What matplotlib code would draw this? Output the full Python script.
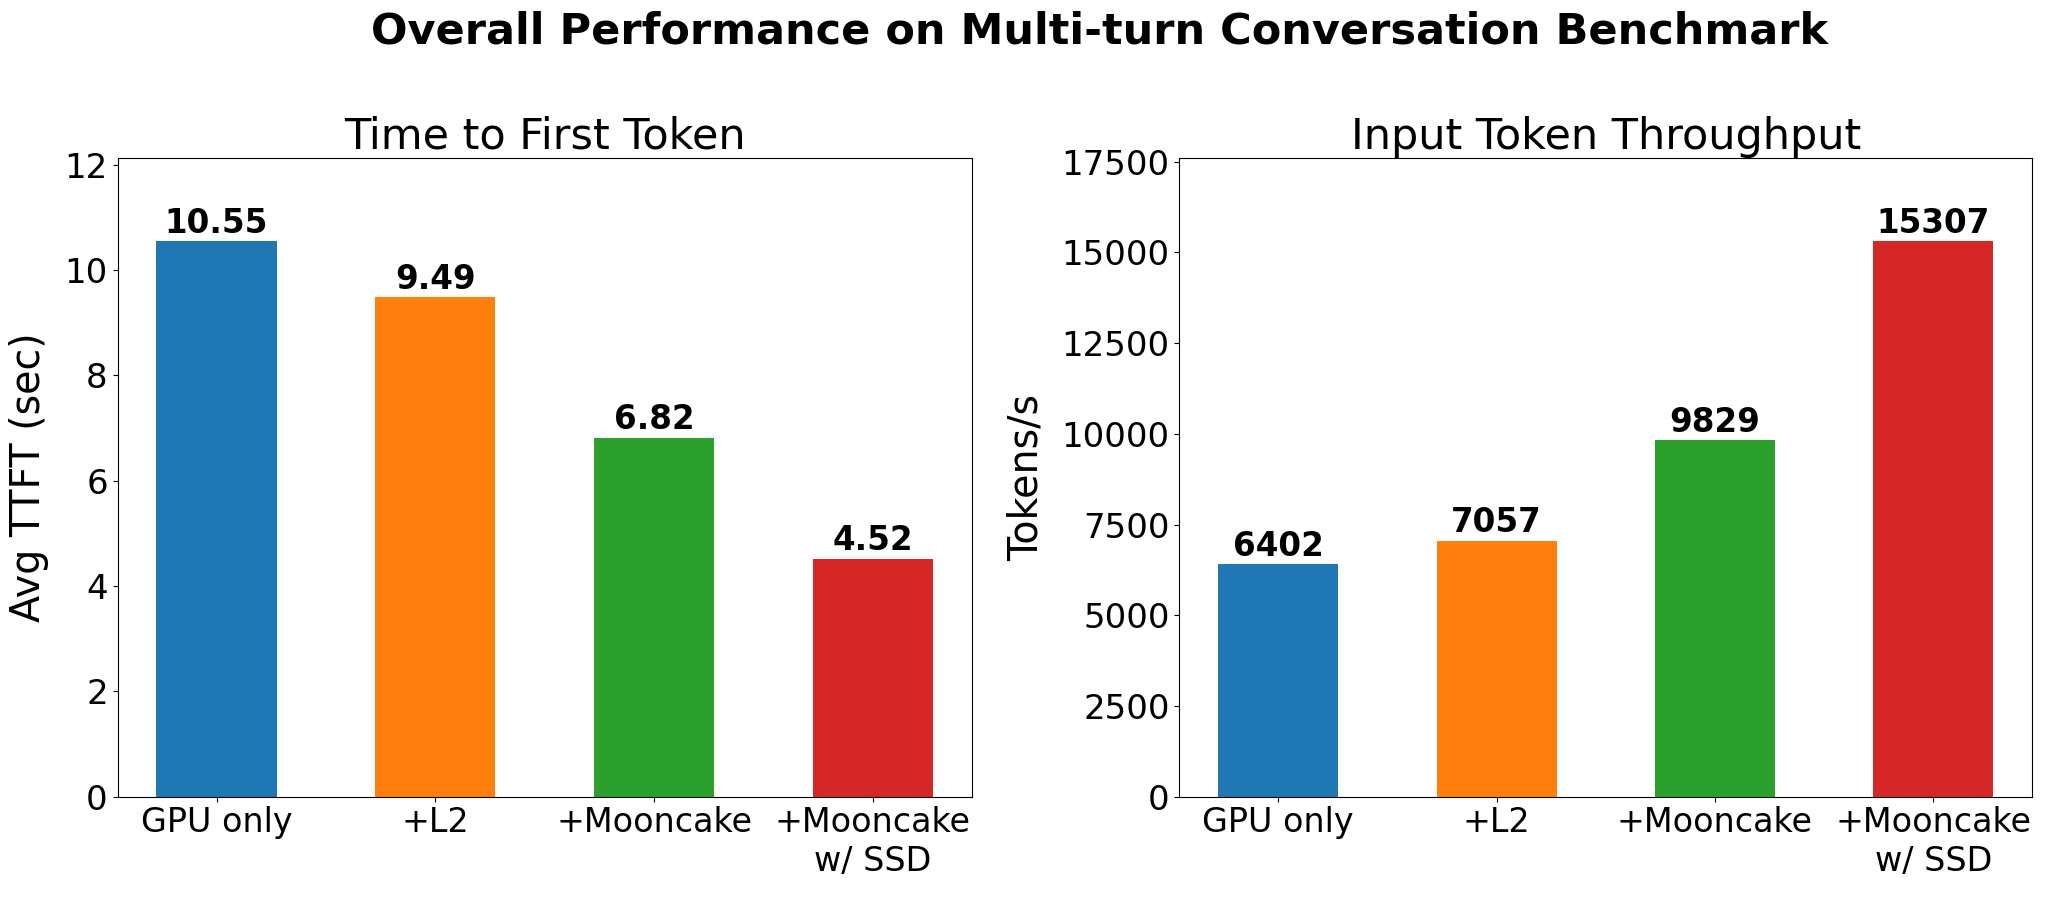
import matplotlib
matplotlib.use("Agg")
import matplotlib.pyplot as plt
from matplotlib.ticker import MultipleLocator

categories = ["GPU only", "+L2", "+Mooncake", "+Mooncake\nw/ SSD"]
ttft_values = [10.55, 9.49, 6.82, 4.52]
throughput_values = [6402, 7057, 9829, 15307]
ttft_labels = ["10.55", "9.49", "6.82", "4.52"]
throughput_labels = ["6402", "7057", "9829", "15307"]
colors = ["#1f77b4", "#ff7f0e", "#2ca02c", "#d62728"]

fig = plt.figure(figsize=(20.48, 8.97), dpi=100)
ax1 = fig.add_axes([0.0574, 0.1118, 0.4171, 0.7122])
ax2 = fig.add_axes([0.5759, 0.1118, 0.4163, 0.7122])

x = list(range(len(categories)))

def draw(ax, vals, labels, title, ylabel, step):
    bars = ax.bar(x, vals, width=0.55, color=colors)
    ax.bar_label(bars, labels=labels, fontsize=23.5, fontweight="bold", padding=1)
    ax.set_ylim(0, max(vals) * 1.15)
    ax.yaxis.set_major_locator(MultipleLocator(step))
    ax.set_xticks(x)
    ax.set_xticklabels(categories, fontsize=24)
    ax.tick_params(axis="y", labelsize=24.5)
    ax.set_title(title, fontsize=31, pad=6)
    ax.set_ylabel(ylabel, fontsize=28.5, labelpad=11)

draw(ax1, ttft_values, ttft_labels, "Time to First Token", "Avg TTFT (sec)", 2)
draw(ax2, throughput_values, throughput_labels, "Input Token Throughput", "Tokens/s", 2500)

fig.suptitle("Overall Performance on Multi-turn Conversation Benchmark",
             fontsize=31, fontweight="bold", x=0.537, y=0.988)

fig.savefig("out.png", dpi=100)
